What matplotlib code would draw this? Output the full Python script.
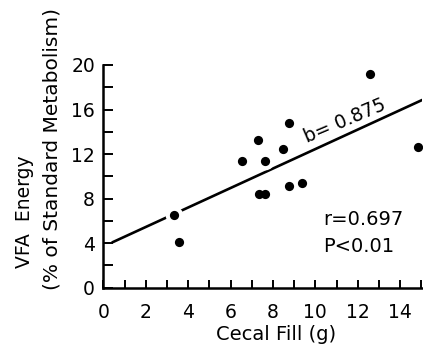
import matplotlib
matplotlib.use("Agg")
import matplotlib.pyplot as plt
import numpy as np

# Data
cecal_fill = [3.33, 3.58, 6.53, 7.31, 7.63, 7.36, 7.63, 8.49, 8.77, 8.77, 9.36, 12.58, 14.86]
vfa_energy = [6.53, 4.08, 11.38, 13.27, 11.41, 8.42, 8.42, 12.43, 14.82, 9.16, 9.38, 19.20, 12.61]
slope_b = 0.875
intercept = 3.7
line_x = [0.4, 15.05]
x_ticks = [0, 2, 4, 6, 8, 10, 12, 14]
y_ticks = [0, 4, 8, 12, 16, 20]
xlabel = "Cecal Fill (g)"
ylabel1 = "VFA  Energy"
ylabel2 = "(% of Standard Metabolism)"
b_text = "b= 0.875"
r_text = "r=0.697"
p_text = "P<0.01"

W, H = 423, 347
fig = plt.figure(figsize=(W / 100, H / 100), dpi=100)
ax = fig.add_axes([103.3 / W, 59.3 / H, (422.4 - 103.3) / W, (282 - 59.3) / H])

lx = np.array(line_x)
ax.plot(lx, intercept + slope_b * lx, color="black", lw=1.9, zorder=2, solid_capstyle="butt")
# white halo around markers (breaks the line where points sit on it)
ax.scatter(cecal_fill, vfa_energy, s=160, color="white", zorder=2.5, linewidths=0, clip_on=False)
ax.scatter(cecal_fill, vfa_energy, s=44, color="black", zorder=3, linewidths=0, clip_on=False)

ax.set_xlim(0, 15.05)
ax.set_ylim(0, 20)
ax.spines["top"].set_visible(False)
ax.spines["right"].set_visible(False)
for s in ("left", "bottom"):
    ax.spines[s].set_linewidth(1.8)

ax.set_xticks(x_ticks)
ax.set_xticks(np.arange(1, 16, 1), minor=True)
ax.set_yticks(y_ticks)
ax.set_yticks(np.arange(2, 20, 2), minor=True)
ax.set_xticklabels([str(v) for v in x_ticks])
ax.set_yticklabels([str(v) for v in y_ticks])
ax.tick_params(axis="x", which="both", direction="in", length=5.5, width=1.4, pad=11, labelsize=13.5)
ax.tick_params(axis="y", which="both", direction="in", length=7.2, width=1.4, pad=6, labelsize=13.5)

ax.text(11.4, 14.98, b_text, rotation=23, ha="center", va="center", fontsize=13.5,
        rotation_mode="anchor")
ax.text(10.36, 6.08, r_text, ha="left", va="center", fontsize=14)
ax.text(10.36, 3.66, p_text, ha="left", va="center", fontsize=14)

fig.text(276.5 / W, 1 - 335 / H, xlabel, ha="center", va="center", fontsize=14)
fig.text(25 / W, 1 - 212 / H, ylabel1, ha="center", va="center", rotation=90, fontsize=13.5)
fig.text(52 / W, 1 - 148.5 / H, ylabel2, ha="center", va="center", rotation=90, fontsize=14.5)

fig.savefig("out.png", dpi=100)
